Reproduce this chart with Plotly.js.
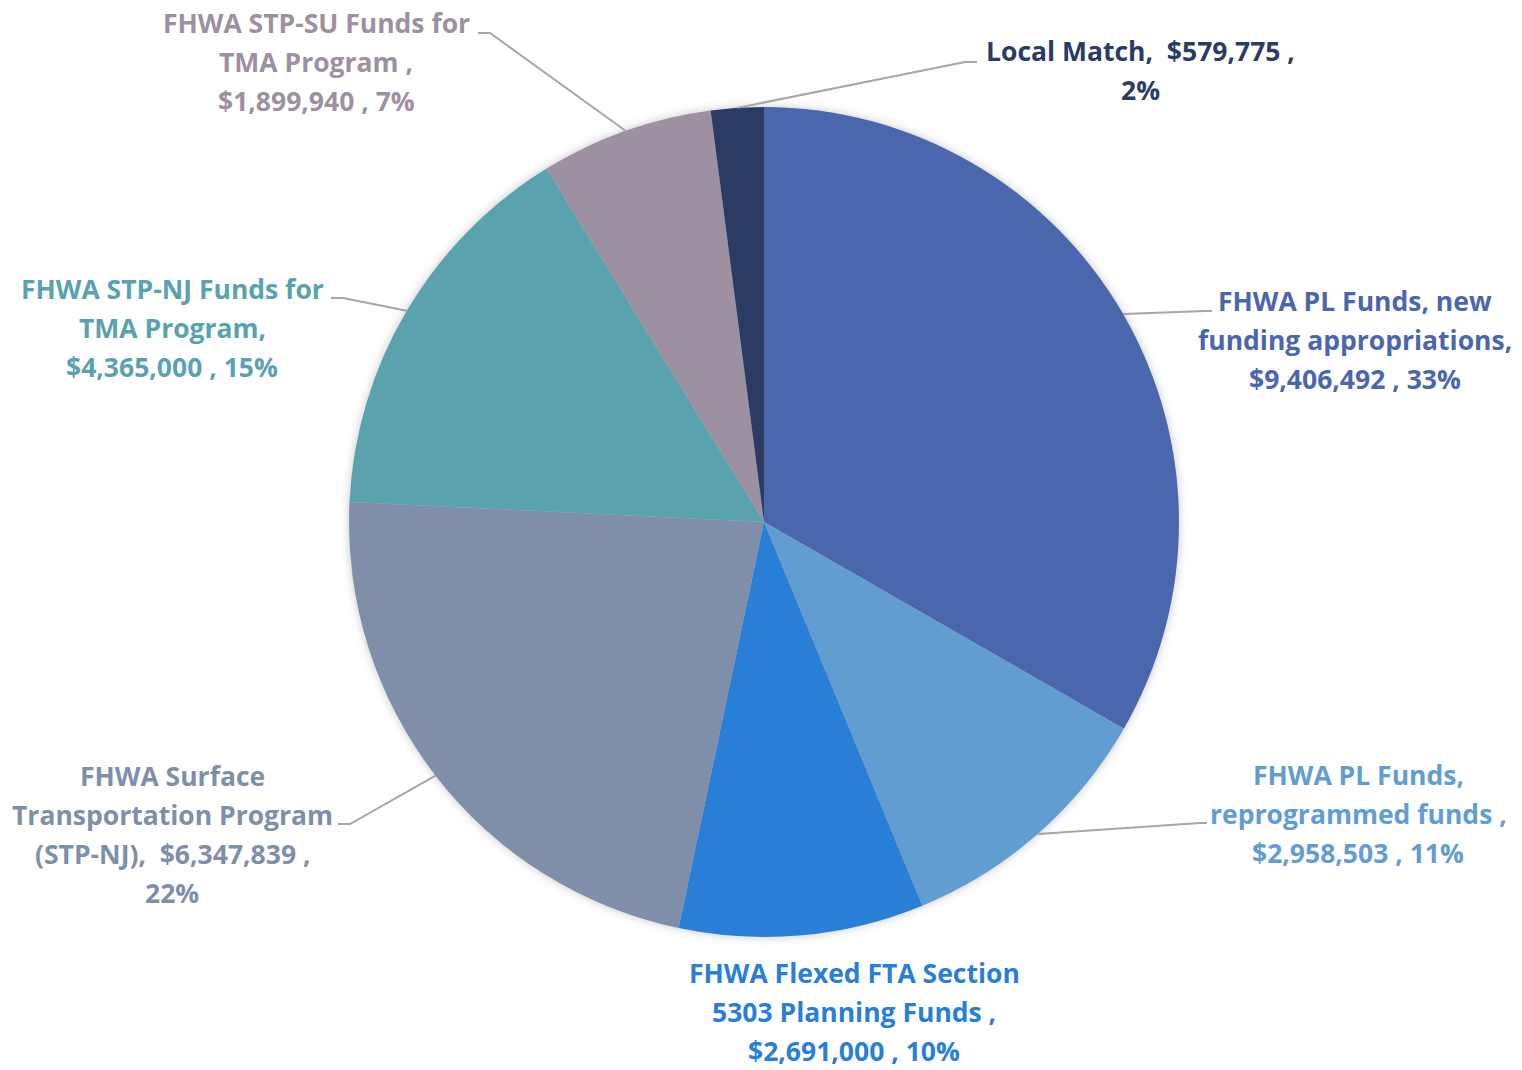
<!DOCTYPE html>
<html>
<head>
<meta charset="utf-8">
<script src="https://cdn.plot.ly/plotly-3.0.1.min.js"></script>
<style>
  html, body { margin: 0; padding: 0; background: #ffffff; }
  #chart { width: 1522px; height: 1070px; }
  .pielayer { filter: drop-shadow(0px 0px 5px rgba(0,0,0,0.22)); }
</style>
</head>
<body>
<div id="chart"></div>
<script>
// ---- Data ----
const categories = [
  "FHWA PL Funds, new funding appropriations",
  "FHWA PL Funds, reprogrammed funds",
  "FHWA Flexed FTA Section 5303 Planning Funds",
  "FHWA Surface Transportation Program (STP-NJ)",
  "FHWA STP-NJ Funds for TMA Program",
  "FHWA STP-SU Funds for TMA Program",
  "Local Match"
];
const values = [9406492, 2958503, 2691000, 6347839, 4365000, 1899940, 579775];
const labelLines = [
  ["FHWA PL Funds, new", "funding appropriations,", "$9,406,492 , 33%"],
  ["FHWA PL Funds,", "reprogrammed funds ,", "$2,958,503 , 11%"],
  ["FHWA Flexed FTA Section", "5303 Planning Funds ,", "$2,691,000 , 10%"],
  ["FHWA Surface", "Transportation Program", "(STP-NJ),  $6,347,839 ,", "22%"],
  ["FHWA STP-NJ Funds for", "TMA Program,", "$4,365,000 , 15%"],
  ["FHWA STP-SU Funds for", "TMA Program ,", "$1,899,940 , 7%"],
  ["Local Match,  $579,775 ,", "2%"]
];
const colors = ["#4A66AC", "#629DD1", "#297FD5", "#7F8FA9", "#5AA2AE", "#9D90A0", "#2C3B63"];

// ---- Layout settings (pixels) ----
const W = 1522, H = 1070;
const cx = 764, cy = 522, R = 415;
// label block centres and leader elbow/end points
const labelPos = [
  {x: 1355, y: 340, elbow: [1205, 311], end: [1212, 311]},
  {x: 1358, y: 814, elbow: [1200, 823], end: [1207, 823]},
  {x: 854,  y: 1012, elbow: null, end: null},
  {x: 172,  y: 834, elbow: [350, 824], end: [338, 824]},
  {x: 172,  y: 328, elbow: [343, 298], end: [331, 298]},
  {x: 316,  y: 62,  elbow: [490, 33],  end: [478, 33]},
  {x: 1140, y: 70,  elbow: [965, 62],  end: [977, 62]}
];
const lineGap = 39;
const fontFamily = "'Open Sans', 'Noto Sans', sans-serif";
const fontSize = 26.5;

const px = x => x / W;
const py = y => 1 - y / H;

const total = values.reduce((a, b) => a + b, 0);
const annotations = [];
const shapes = [];
let cum = 0;
values.forEach((v, i) => {
  const mid = (cum + v / 2) / total * 2 * Math.PI;
  cum += v;
  const lp = labelPos[i];
  const lines = labelLines[i];
  lines.forEach((t, k) => {
    annotations.push({
      xref: "paper", yref: "paper",
      x: px(lp.x), y: py(lp.y + (k - (lines.length - 1) / 2) * lineGap),
      xanchor: "center", yanchor: "middle",
      text: t, showarrow: false,
      font: {family: fontFamily, size: fontSize, color: colors[i], weight: 700}
    });
  });
  if (lp.elbow) {
    const ex = cx + R * Math.sin(mid), ey = cy - R * Math.cos(mid);
    shapes.push({
      type: "path", xref: "paper", yref: "paper",
      path: `M ${px(ex)} ${py(ey)} L ${px(lp.elbow[0])} ${py(lp.elbow[1])} L ${px(lp.end[0])} ${py(lp.end[1])}`,
      line: {color: "#A6A6A6", width: 2}
    });
  }
});

const trace = {
  type: "pie",
  labels: categories,
  values: values,
  sort: false,
  direction: "clockwise",
  rotation: 0,
  textinfo: "none",
  hoverinfo: "label+value+percent",
  marker: {colors: colors, line: {width: 0}},
  domain: {x: [(cx - R) / W, (cx + R) / W], y: [1 - (cy + R) / H, 1 - (cy - R) / H]}
};

const layout = {
  width: W, height: H,
  margin: {l: 0, r: 0, t: 0, b: 0},
  paper_bgcolor: "#ffffff",
  showlegend: false,
  annotations: annotations,
  shapes: shapes
};

Plotly.newPlot("chart", [trace], layout, {displayModeBar: false, staticPlot: true});
</script>
</body>
</html>
